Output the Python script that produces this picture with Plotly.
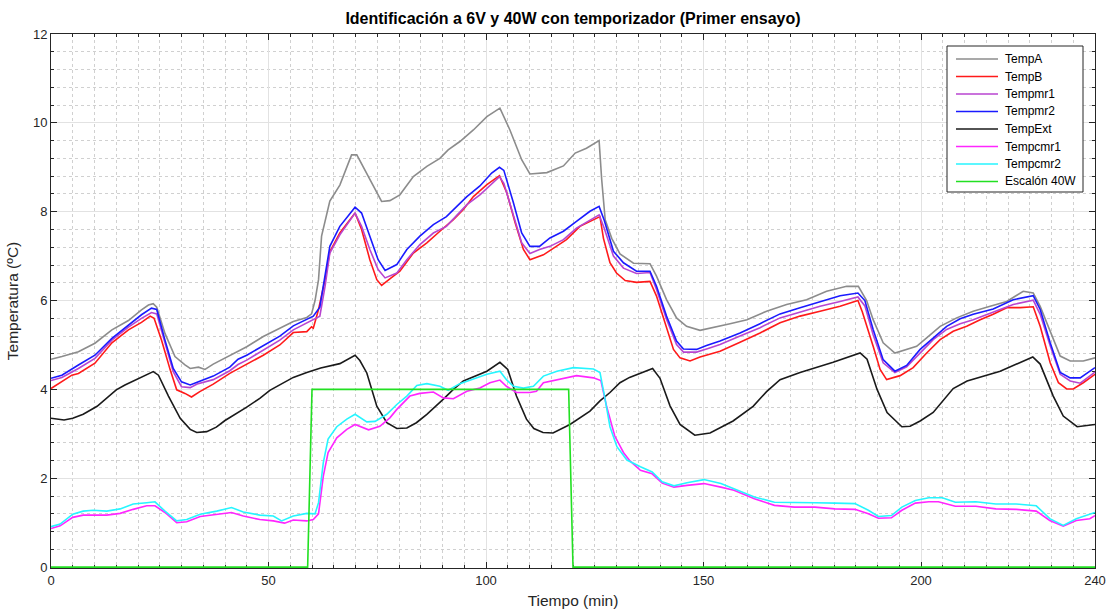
import plotly.graph_objects as go

# ---------------- data ----------------
tA = [0, 2.5, 6.3, 10.1, 14, 17.8, 20.8, 22.4, 23.5, 24.3, 26.2, 28.5, 30.8, 32, 33.9, 35.4, 37.3, 41.1, 45, 48.8,
      52.6, 55.7, 58.8, 59.9, 60.7, 61.5, 62.2, 64.1, 66.4, 69.1, 70.3, 72.6, 76, 77.9, 80.2, 83.3, 86.4, 89.4, 91.3, 94,
      97.1, 100.2, 103.2, 105.5, 108.2, 110.1, 114, 117.8, 120.5, 123.1, 126, 126.6, 127.4, 128.9, 130.8, 133.9, 137.7,
      139.2, 141.5, 143.8, 146.1, 149.2, 152.3, 156.1, 160, 164.5, 169.1, 173.7, 178.3, 182.9, 185.6, 187.5, 189, 191.3,
      194, 196.7, 199, 201.3, 204.4, 208.2, 212, 215.9, 219.7, 223.5, 225.8, 227.4, 229.7, 232, 234.3, 237.3, 240]
TempA = [4.68, 4.74, 4.85, 5.04, 5.34, 5.55, 5.79, 5.9, 5.93, 5.85, 5.26, 4.74, 4.55, 4.47, 4.5, 4.45, 4.57, 4.77, 4.96, 5.19,
         5.38, 5.53, 5.62, 5.7, 6.0, 6.47, 7.45, 8.24, 8.6, 9.28, 9.28, 8.85, 8.23, 8.25, 8.38, 8.79, 9.02, 9.2, 9.39, 9.58,
         9.84, 10.14, 10.33, 9.84, 9.17, 8.85, 8.88, 9.03, 9.32, 9.43, 9.6, 8.72, 7.82, 7.4, 7.05, 6.84, 6.83,
         6.55, 6.02, 5.61, 5.42, 5.33, 5.39, 5.48, 5.57, 5.76, 5.91, 6.02, 6.21, 6.32, 6.32, 6.0, 5.57, 5.05,
         4.82, 4.9, 4.97, 5.16, 5.42, 5.61, 5.76, 5.87, 5.98, 6.21, 6.17, 5.87, 5.31, 4.75, 4.64, 4.64, 4.71]

tB = [0, 2.5, 4.8, 6.3, 10.1, 14, 17.8, 20.8, 22.8, 23.7, 25.4, 27.4, 28.9, 30.8, 32.3, 34.2, 37.3, 41.1, 45, 48.8,
      52.6, 55.7, 58.8, 59.9, 60.3, 61.5, 63, 64.1, 66.4, 69.9, 71.4, 73.3, 74.9, 76, 77.9, 80.2, 83.3, 86.4, 89.4, 92.5,
      94.8, 97.1, 100.2, 103.1, 104.8, 106.7, 108.6, 110.1, 113.2, 115.5, 118.5, 121.6, 124.7, 126.2, 127, 128.5, 130,
      132, 134.6, 137.7, 139.2, 141.5, 143.1, 144.6, 146.9, 149.2, 153.8, 158.4, 163, 167.6, 172.2, 176.8, 181.4, 185.5,
      186.5, 189, 190.6, 192.1, 195.2, 198.2, 201.3, 204.4, 207.4, 210.5, 213.6, 216.6, 219.7, 222.8, 225.8, 227.4,
      229.7, 231.6, 233.5, 235, 237.3, 240]
TempB = [4.02, 4.17, 4.32, 4.36, 4.59, 5.05, 5.34, 5.51, 5.65, 5.6, 5.11, 4.44, 3.99, 3.91, 3.83, 3.95, 4.12, 4.36, 4.57, 4.77,
         5.0, 5.28, 5.3, 5.41, 5.38, 5.8, 6.47, 7.1, 7.52, 7.97, 7.6, 6.92, 6.47, 6.34, 6.49, 6.66, 7.07, 7.3, 7.56, 7.82,
         8.05, 8.34, 8.61, 8.81, 8.42, 7.75, 7.15, 6.92, 7.03, 7.18, 7.37, 7.67, 7.82, 7.89, 7.4, 6.85, 6.62,
         6.45, 6.41, 6.43, 6.1, 5.42, 4.9, 4.71, 4.64, 4.73, 4.86, 5.06, 5.27, 5.5, 5.65, 5.76, 5.87, 6.0,
         5.75, 4.97, 4.45, 4.22, 4.31, 4.49, 4.82, 5.12, 5.31, 5.42, 5.57, 5.69, 5.84, 5.84, 5.86, 5.42,
         4.6, 4.15, 4.01, 4.01, 4.15, 4.34]

tM = [0, 2.5, 6.3, 10.1, 14, 17.8, 20.8, 23.1, 24.3, 26.2, 28.1, 30, 32, 33.6, 37.3, 41.1, 43, 45, 48.8, 52.6, 55.7, 58.8,
      60.3, 61.8, 63, 64.1, 66.4, 69.9, 71.4, 73.3, 75.2, 76.8, 79.5, 81.8, 84.8, 87.9, 90.9, 93.3, 95.6, 98.6, 101.3,
      103.1, 104.1, 106.3, 108.2, 110.1, 112.3, 114.7, 117.8, 120.8, 123.9, 126, 127.2, 129.3, 131.6, 134.6, 137.7,
      139.2, 141.5, 143.8, 145.4, 148.4, 150.7, 153.8, 158.4, 163, 167.6, 172.2, 176.8, 181.4, 185.5, 187.1, 189, 191.3,
      194, 196.7, 199.8, 202.8, 205.9, 209, 212, 216.6, 221.2, 225.8, 227.4, 229.7, 232, 234.3, 236.6, 240]
Tempmr1 = [4.2, 4.27, 4.47, 4.7, 5.11, 5.4, 5.6, 5.73, 5.7, 5.04, 4.4, 4.06, 4.04, 4.12, 4.22, 4.42, 4.56, 4.66, 4.89, 5.11, 5.34, 5.49,
           5.58, 5.65, 6.32, 7.07, 7.48, 7.97, 7.67, 7.15, 6.7, 6.51, 6.62, 6.92, 7.26, 7.52, 7.67, 7.93, 8.16, 8.38, 8.64,
           8.79, 8.64, 7.89, 7.3, 7.06, 7.15, 7.22, 7.37, 7.63, 7.8, 7.93, 7.62, 7.0, 6.73, 6.61, 6.63,
           6.25, 5.58, 5.01, 4.84, 4.84, 4.91, 5.01, 5.2, 5.39, 5.61, 5.74, 5.87, 5.98, 6.08, 5.88, 5.23, 4.6,
           4.38, 4.51, 4.82, 5.12, 5.35, 5.48, 5.57, 5.74, 5.91, 6.01, 5.69, 4.98, 4.34, 4.19, 4.14, 4.39]
Tempmr2 = [4.25, 4.32, 4.55, 4.77, 5.15, 5.45, 5.68, 5.83, 5.8, 5.11, 4.47, 4.17, 4.1, 4.16, 4.3, 4.5, 4.68, 4.77, 4.98, 5.2, 5.43, 5.58,
           5.65, 5.85, 6.62, 7.22, 7.67, 8.1, 7.97, 7.45, 6.92, 6.68, 6.81, 7.15, 7.45, 7.71, 7.89, 8.12, 8.34, 8.58, 8.87,
           9.0, 8.93, 8.2, 7.52, 7.22, 7.22, 7.41, 7.56, 7.78, 8.01, 8.12, 7.8, 7.11, 6.85, 6.66, 6.66,
           6.32, 5.65, 5.09, 4.91, 4.9, 4.99, 5.09, 5.27, 5.48, 5.7, 5.84, 5.98, 6.11, 6.17, 6.0, 5.35, 4.67,
           4.41, 4.54, 4.9, 5.16, 5.42, 5.59, 5.69, 5.81, 6.02, 6.11, 5.8, 5.05, 4.38, 4.26, 4.26, 4.49]

tE = [0, 3, 5, 7.4, 10.6, 12.4, 15, 17, 20.5, 23.5, 24.7, 27, 29.7, 32, 33.5, 35.8, 38, 40, 45, 48, 50.3, 52.6, 55.7, 58.8,
      62, 66.4, 69.9, 71, 72.6, 74.9, 77.2, 79.5, 81.8, 84, 86.4, 90.2, 92.5, 94.8, 100.2, 103.2, 105, 107, 109.3, 111,
      113.1, 115.4, 119.3, 123.9, 126.2, 128.5, 130.8, 133, 138.3, 140, 142.3, 144.6, 148, 151.5, 156.8, 161.4, 164.5,
      167.6, 172.2, 179.8, 186, 187.6, 189.9, 192.2, 195.6, 197.5, 199.8, 202.8, 205, 207.4, 210.6, 218.2, 225.7, 227.4,
      230.4, 232.7, 235.9, 240]
TempExt = [3.35, 3.31, 3.35, 3.44, 3.62, 3.77, 3.99, 4.1, 4.26, 4.4, 4.32, 3.85, 3.35, 3.1, 3.03, 3.05, 3.15, 3.3, 3.6, 3.8, 3.98, 4.1, 4.27, 4.38,
           4.48, 4.58, 4.77, 4.65, 4.37, 3.62, 3.25, 3.12, 3.13, 3.25, 3.44, 3.78, 4.0, 4.19, 4.41, 4.61, 4.45, 3.85, 3.33, 3.12,
           3.03, 3.02, 3.21, 3.51, 3.74, 3.93, 4.15, 4.27, 4.47, 4.25, 3.63, 3.21, 2.97, 3.02, 3.29, 3.62, 3.95,
           4.22, 4.38, 4.61, 4.82, 4.68, 4.0, 3.48, 3.16, 3.17, 3.29, 3.48, 3.75, 4.02, 4.19, 4.41, 4.73, 4.57,
           3.85, 3.4, 3.16, 3.21]

tC2 = [0, 2.1, 5, 7.4, 9.7, 12.8, 15.9, 18.9, 22, 23.9, 26.2, 28.9, 31.2, 34.3, 38.1, 41.5, 44.2, 48, 51.1, 53, 55.7, 58.8,
       60.7, 61.5, 62.6, 63.7, 65.7, 68, 69.9, 72.6, 74.5, 77.2, 79.5, 81.8, 84.1, 86.4, 89.4, 91.3, 94, 97.1, 100.2,
       103.2, 104.7, 106.3, 108.6, 110.9, 113.2, 116.3, 120.1, 124.7, 126.2, 127.4, 128.5, 130.1, 132.4, 135.5, 138.2,
       140.5, 143.2, 146.2, 150.1, 154, 157, 161.7, 166.3, 170.9, 175.6, 180.2, 184.8, 187.9, 190.2, 193.2, 195.6, 198.7,
       201.8, 204.9, 207.9, 212.6, 217.2, 221.9, 226.5, 229.6, 232.7, 235.7, 238.8, 240]
Tempcmr2 = [0.91, 0.97, 1.19, 1.26, 1.28, 1.26, 1.31, 1.42, 1.45, 1.47, 1.26, 1.04, 1.07, 1.19, 1.26, 1.34, 1.24, 1.17, 1.15, 1.04, 1.15, 1.21,
            1.2, 1.45, 2.35, 2.88, 3.16, 3.33, 3.44, 3.27, 3.28, 3.44, 3.66, 3.85, 4.09, 4.13, 4.07, 3.98, 4.13, 4.24, 4.34,
            4.41, 4.22, 4.07, 4.03, 4.07, 4.3, 4.41, 4.49, 4.46, 4.38, 3.77, 3.16, 2.71, 2.41, 2.26, 2.14,
            1.92, 1.83, 1.9, 1.97, 1.88, 1.77, 1.58, 1.46, 1.46, 1.45, 1.44, 1.43, 1.28, 1.14, 1.16, 1.35, 1.5,
            1.56, 1.56, 1.46, 1.47, 1.42, 1.42, 1.38, 1.09, 0.94, 1.09, 1.2, 1.23]

tC1 = [0, 2.1, 5, 7.4, 12.8, 15.9, 18.9, 22, 23.9, 26.2, 28.9, 31.2, 34.3, 38.1, 41.5, 44.2, 48, 51.1, 53.7, 55.7, 58.8,
       60.3, 61.5, 62.6, 63.7, 65.7, 68, 69.9, 73, 75.6, 77.9, 79.5, 82.5, 84.8, 87.9, 90.2, 92.5, 95.6, 98.6, 100.9,
       103.2, 104.7, 107, 110.1, 111.6, 113.2, 116.3, 118.5, 120.8, 124.7, 126.4, 127.7, 129.6, 131.6, 133.1, 135.5,
       138.2, 140.5, 143.2, 146.2, 150.1, 154, 157, 161.7, 166.3, 170.9, 175.6, 180.2, 184.8, 187.9, 190.2, 193.2, 195.6,
       198.7, 201.8, 204, 207.9, 212.6, 217.2, 221.9, 226.5, 229.6, 232.7, 235.7, 238.8, 240]
Tempcmr1 = [0.87, 0.93, 1.12, 1.17, 1.17, 1.21, 1.3, 1.38, 1.38, 1.23, 1.0, 1.02, 1.14, 1.19, 1.23, 1.15, 1.07, 1.04, 0.99, 1.06, 1.04,
            1.07, 1.2, 2.05, 2.58, 2.91, 3.1, 3.21, 3.09, 3.17, 3.36, 3.55, 3.85, 3.91, 3.94, 3.81, 3.79, 3.96, 4.03, 4.15,
            4.21, 4.07, 3.93, 3.93, 3.96, 4.15, 4.22, 4.26, 4.31, 4.26, 4.2, 3.63, 2.95, 2.58, 2.39, 2.18,
            2.1, 1.89, 1.8, 1.84, 1.88, 1.8, 1.73, 1.54, 1.39, 1.35, 1.35, 1.31, 1.3, 1.2, 1.1, 1.11, 1.28,
            1.44, 1.47, 1.47, 1.37, 1.37, 1.31, 1.3, 1.26, 1.05, 0.92, 1.05, 1.09, 1.16]

tStep = [0, 59, 60, 119, 120, 240]
Escalon = [0, 0, 4, 4, 0, 0]

x_ticks = [0, 50, 100, 150, 200, 240]
series_names = ["TempA", "TempB", "Tempmr1", "Tempmr2", "TempExt", "Tempcmr1", "Tempcmr2", "Escalón 40W"]
series_colors = ["#8c8c8c", "#ff1a1a", "#b845d0", "#1a1aff", "#1a1a1a", "#ff26ff", "#26f5ff", "#22e022"]
series_x = [tA, tB, tM, tM, tE, tC1, tC2, tStep]
series_y = [TempA, TempB, Tempmr1, Tempmr2, TempExt, Tempcmr1, Tempcmr2, Escalon]

FONT = "Liberation Sans Narrow, Liberation Sans, Arial, sans-serif"
W, H = 1107, 615
L, R, T, B = 51, 12, 34, 47
PW, PH = W - L - R, H - T - B


def px_x(px):
    return (px - L) / PW


def px_y(py):
    return (H - B - py) / PH


fig = go.Figure()
for name, xs, ys, col in zip(series_names, series_x, series_y, series_colors):
    fig.add_trace(go.Scatter(x=xs, y=ys, mode="lines", name=name, showlegend=False,
                             line=dict(color=col, width=1.6)))

axis_common = dict(
    showline=True, linecolor="#262626", linewidth=1, mirror="ticks",
    ticks="inside", ticklen=6, tickcolor="#262626", tickwidth=1,
    showgrid=True, gridcolor="#e2e2e2", gridwidth=1, zeroline=False,
    tickfont=dict(family=FONT, size=13, color="#262626"),
    automargin=False, layer="below traces",
)

fig.update_xaxes(
    range=[0, 240], tickmode="array", tickvals=x_ticks, ticktext=[str(v) for v in x_ticks],
    title=dict(text="Tiempo (min)", font=dict(family=FONT, size=15.5, color="#262626"), standoff=8),
    minor=dict(tickmode="linear", tick0=0, dtick=5, ticks="inside", ticklen=3, tickcolor="#262626",
               showgrid=True, gridcolor="#d0d0d0", griddash="dot", gridwidth=1),
    **axis_common)
fig.update_yaxes(
    range=[-0.02, 12], tickmode="array", tickvals=[0, 2, 4, 6, 8, 10, 12],
    title=dict(text="Temperatura (ºC)", font=dict(family=FONT, size=15.5, color="#262626"), standoff=10),
    minor=dict(tickmode="linear", tick0=0, dtick=0.4, ticks="inside", ticklen=3, tickcolor="#262626",
               showgrid=True, gridcolor="#d0d0d0", griddash="dot", gridwidth=1),
    **axis_common)

# ----- legend box drawn like the MATLAB legend -----
box_l, box_r, box_t, box_b = 947, 1083, 46, 192
row0, row_step = 59, 17.5
shapes = [dict(type="rect", xref="paper", yref="paper",
               x0=px_x(box_l), x1=px_x(box_r), y0=px_y(box_b), y1=px_y(box_t),
               line=dict(color="#262626", width=1), fillcolor="white", layer="above")]
annotations = []
for i, (name, col) in enumerate(zip(series_names, series_colors)):
    yy = px_y(row0 + i * row_step)
    shapes.append(dict(type="line", xref="paper", yref="paper",
                       x0=px_x(956), x1=px_x(998), y0=yy, y1=yy,
                       line=dict(color=col, width=1.6), layer="above"))
    annotations.append(dict(xref="paper", yref="paper", x=px_x(1003), y=yy,
                            xanchor="left", yanchor="middle", text=name, showarrow=False,
                            font=dict(family=FONT, size=12, color="#000000")))

fig.update_layout(
    width=W, height=H,
    margin=dict(l=L, r=R, t=T, b=B),
    paper_bgcolor="white", plot_bgcolor="white",
    title=dict(text="<b>Identificación a 6V y 40W con temporizador (Primer ensayo)</b>",
               x=(L + PW / 2) / W, xanchor="center", y=1 - 18 / H, yanchor="middle",
               font=dict(family=FONT, size=16, color="#000000")),
    shapes=shapes, annotations=annotations,
    showlegend=False,
)

fig.write_html("out.html")
